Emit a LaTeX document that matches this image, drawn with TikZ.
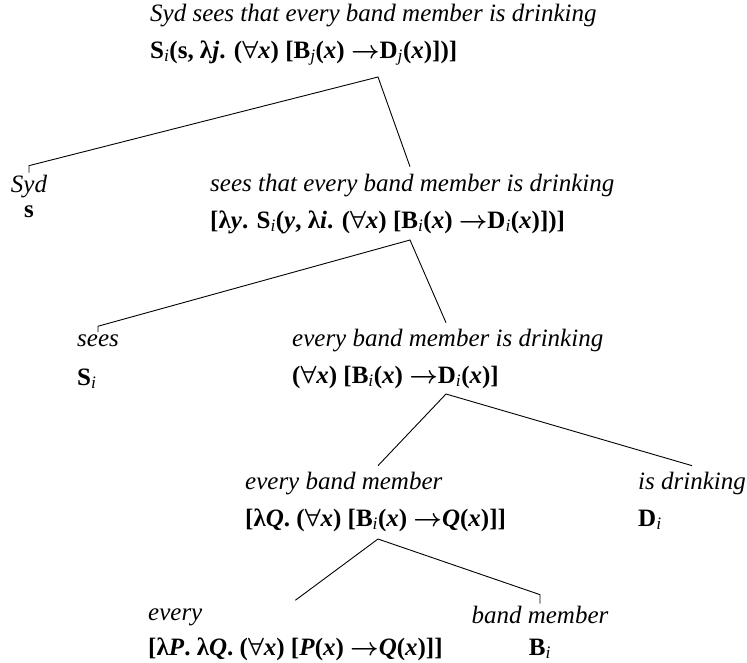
\documentclass[tikz,border=0pt]{standalone}
\usepackage{fontspec}
\setmainfont{Liberation Serif}
\usetikzlibrary{calc}

% bold italic variable, italic subscript, quantifier, arrow
\newcommand{\bvar}[1]{\textbf{\textit{#1}}}
\newcommand{\sbi}[1]{\textsubscript{\textit{\mdseries #1}}}
\newcommand{\fall}{{\boldmath$\forall$}}
\newcommand{\impl}{{\boldmath$\rightarrow$}}

\tikzset{
  lab/.style={inner sep=0pt, outer ysep=2pt, align=left, font=\fontsize{25}{37}\selectfont},
  leaf/.style={lab, align=center},
  branch/.style={draw=black, line width=0.9pt},
}

\begin{document}
\begin{tikzpicture}[x=1pt, y=-1pt]
  \useasboundingbox (0,0) rectangle (747,662);

  % --- Sentence ---
  \node[lab, anchor=base west] (sent) at (150,58)
    {\textit{Syd sees that every band member is drinking}\\
     \textbf{S\sbi{i}(s, λ\bvar{j}. (\fall\bvar{x}) [B\sbi{j}(\bvar{x}) \impl D\sbi{j}(\bvar{x})])]}};

  % --- Row 1 ---
  \node[leaf, anchor=base, font=\fontsize{25}{25}\selectfont] (syd) at (29,217)
    {\textit{Syd}\\ \textbf{s}};
  \node[lab, anchor=base west] (vp1) at (210,228)
    {\textit{sees that every band member is drinking}\\
     \textbf{[λ\bvar{y}. S\sbi{i}(\bvar{y}, λ\bvar{i}. (\fall\bvar{x}) [B\sbi{i}(\bvar{x}) \impl D\sbi{i}(\bvar{x})])]}};

  % --- Row 2 ---
  \node[lab, anchor=base west, font=\fontsize{25}{39}\selectfont] (sees) at (77,385)
    {\textit{sees}\\ \textbf{S\sbi{i}}};
  \node[lab, anchor=base west] (vp2) at (292,383)
    {\textit{every band member is drinking}\\
     \textbf{(\fall\bvar{x}) [B\sbi{i}(\bvar{x}) \impl D\sbi{i}(\bvar{x})]}};

  % --- Row 3 ---
  \node[lab, anchor=base west] (np) at (245,526)
    {\textit{every band member}\\
     \textbf{[λ\bvar{Q}. (\fall\bvar{x}) [B\sbi{i}(\bvar{x}) \impl\bvar{Q}(\bvar{x})]]}};
  \node[lab, anchor=base west] (drink) at (638,526)
    {\textit{is drinking}\\ \textbf{D\sbi{i}}};

  % --- Row 4 ---
  \node[lab, anchor=base west, font=\fontsize{25}{35}\selectfont] (det) at (148,655)
    {\textit{every}\\
     \textbf{[λ\bvar{P}. λ\bvar{Q}. (\fall\bvar{x}) [\bvar{P}(\bvar{x}) \impl\bvar{Q}(\bvar{x})]]}};
  \node[leaf, anchor=base, font=\fontsize{25}{32}\selectfont] (band) at (540,655)
    {\textit{band member}\\ \textbf{B\sbi{i}}};

  % --- branch points ---
  \coordinate (a0) at (378,77);
  \coordinate (a1) at (410,240);
  \coordinate (a2) at (446,394);
  \coordinate (a3) at (378,539);

  % --- branches ---
  \draw[branch] (syd.north) -- ++(0,-7) -- (a0) -- ($(a1 |- vp1.north)+(0,-5)$);
  \draw[branch] (sees.north) -- ++(0,-6) -- (a1) -- ($(a2 |- vp2.north)+(0,-4)$);
  \draw[branch] ($(a3 |- np.north)+(0,-4)$) -- (a2) -- ($(drink.north)+(0,-4)$);
  \draw[branch] ($(det.north)+(0,-6)$) -- (a3) -- ($(band.north)+(0,-9)$) -- (band.north);
\end{tikzpicture}
\end{document}
